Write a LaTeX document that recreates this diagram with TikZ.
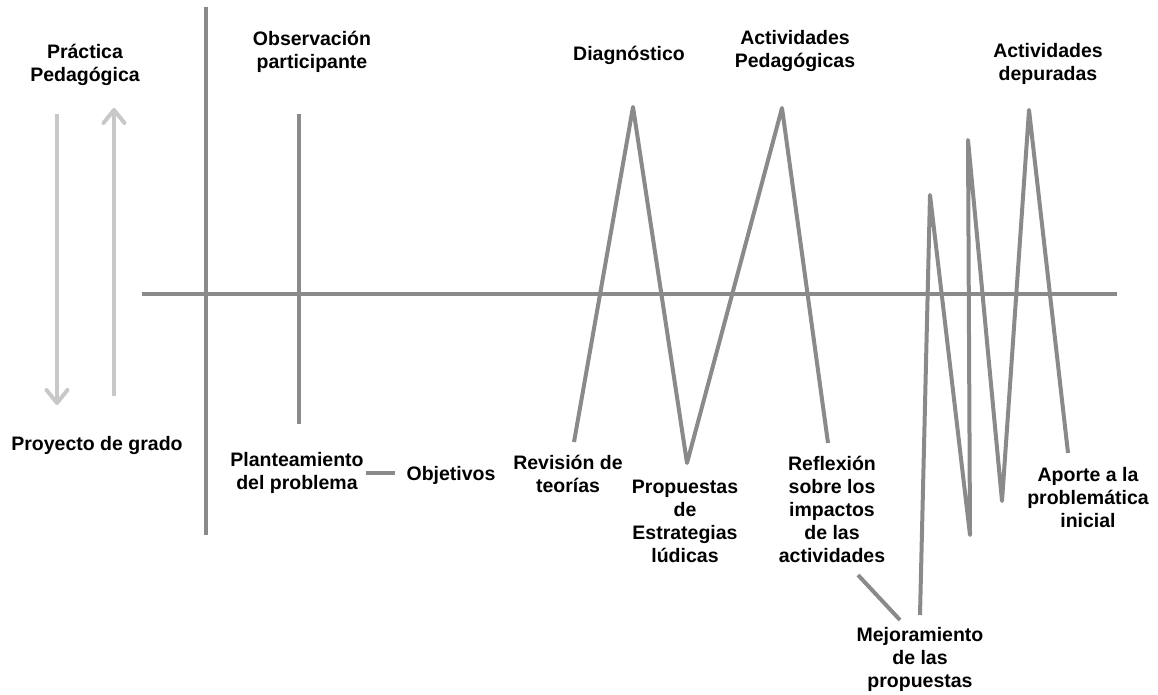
\documentclass[tikz,border=0pt]{standalone}
\usepackage{fontspec}
\setmainfont{Liberation Sans}
\usetikzlibrary{arrows.meta}
\definecolor{lg}{HTML}{8A8A8A}
\definecolor{la}{HTML}{C8C8C8}
\begin{document}
\begin{tikzpicture}[x=1pt,y=-1pt,
  lbl/.style={align=center, inner sep=0pt, font=\fontsize{19.5}{23}\selectfont\bfseries},
  ln/.style={draw=lg, line width=4pt, line join=round},
  arr/.style={draw=la, line width=4pt, -{Straight Barb[length=13pt,width=21pt,line cap=round,line join=round]}}]
\useasboundingbox (0,0) rectangle (1158,695);

% labels
\node[lbl] (prac) at (85,64.5) {Práctica\\Pedagógica};
\node[lbl] (proy) at (97,445) {Proyecto de grado};
\node[lbl] (obs) at (312,51.5) {Observación\\participante};
\node[lbl] (plan) at (297,473) {Planteamiento\\del problema};
\node[lbl] (obj) at (451,475) {Objetivos};
\node[lbl] (rev) at (568,474) {Revisión de\\teorías};
\node[lbl] (diag) at (629,55) {Diagnóstico};
\node[lbl] (prop) at (685,521) {Propuestas\\de\\Estrategias\\lúdicas};
\node[lbl] (actp) at (795,51.5) {Actividades\\Pedagógicas};
\node[lbl] (refl) at (832,509) {Reflexión\\sobre los\\impactos\\de las\\actividades};
\node[lbl] (mej) at (920,659.5) {Mejoramiento\\de las\\propuestas};
\node[lbl] (actd) at (1048,63.5) {Actividades\\depuradas};
\node[lbl] (apo) at (1088,497.5) {Aporte a la\\problemática\\inicial};

% axes
\coordinate (vtop) at (206,7);
\coordinate (vbot) at (206,535);
\coordinate (hl) at (142,294);
\coordinate (hr) at (1117,294);
\draw[ln] (vtop) -- (vbot);
\draw[ln] (hl) -- (hr);

% observation line
\coordinate (otop) at (299,114);
\coordinate (obot) at (299,424);
\draw[ln] (otop) -- (obot);

% left arrows
\coordinate (dA) at (57,114);
\coordinate (dB) at (57,405);
\coordinate (uA) at (114,396);
\coordinate (uB) at (114,108);
\draw[arr] (dA) -- (dB);
\draw[arr] (uA) -- (uB);

% dash between planteamiento and objetivos
\coordinate (d1) at (366,473);
\coordinate (d2) at (395,473);
\draw[ln] (d1) -- (d2);

% first zigzag
\coordinate (z1) at (574,442);
\coordinate (z2) at (633,107);
\coordinate (z3) at (687,463);
\coordinate (z4) at (782,108);
\coordinate (z5) at (828,443);
\draw[ln] (z1) -- (z2) -- (z3) -- (z4) -- (z5);

% diagonal to mejoramiento
\coordinate (g1) at (858,575);
\coordinate (g2) at (900,620);
\draw[ln] (g1) -- (g2);

% second zigzag
\coordinate (w1) at (920,615);
\coordinate (w2) at (930,195);
\coordinate (w3) at (970,535);
\coordinate (w4) at (968,140);
\coordinate (w5) at (1002,501);
\coordinate (w6) at (1029,110);
\coordinate (w7) at (1068,453);
\draw[ln] (w1) -- (w2) -- (w3) -- (w4) -- (w5) -- (w6) -- (w7);
\end{tikzpicture}
\end{document}
